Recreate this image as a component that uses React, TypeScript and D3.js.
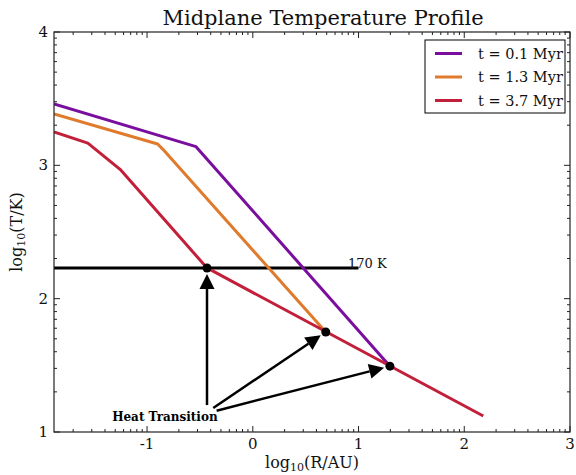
import React from "react";
import * as d3 from "d3";

const W = 576;
const H = 475;

// series data (log10 R [AU], log10 T [K])
const seriesLabels = ["t = 0.1 Myr", "t = 1.3 Myr", "t = 3.7 Myr"];
const seriesColors = ["#7a0e9e", "#e07a2c", "#c21f3a"];
const purpleX = [-1.88, -0.537, 1.297];
const purpleY = [3.46, 3.14, 1.494];
const orangeX = [-1.88, -0.90, -0.85, 0.69];
const orangeY = [3.385, 3.16, 3.12, 1.75];
const redX = [-1.88, -1.56, -1.255, -0.433, 2.18];
const redY = [3.25, 3.167, 2.97, 2.2304, 1.12];

// snow line
const snowLabel = "170 K";
const snowT = Math.log10(170);
const snowXStart = -1.88;
const snowXEnd = 1.0;
const snowLabelX = 0.9;

// transition points & annotation
const transX = [-0.433, 0.69, 1.297];
const transY = [2.2304, 1.75, 1.494];
const arrowStartX = [-0.433, -0.374, -0.342];
const arrowStartY = [1.202, 1.18, 1.16];
const annotText = "Heat Transition";
const annotX = -1.33;
const annotY = 1.085;

const xMajor = [-1, 0, 1, 2, 3];
const yMajor = [1, 2, 3, 4];
const xDomain = [-1.88, 3];
const yDomain = [1, 4];

const FONT = "'DejaVu Serif', serif";

export default function App() {
  const left = 54, right = 570, top = 32, bottom = 432;
  const x = d3.scaleLinear().domain(xDomain).range([left, right]);
  const y = d3.scaleLinear().domain(yDomain).range([bottom, top]);

  const minorTicks = (dom: number[]) => {
    const out: number[] = [];
    for (let n = Math.floor(dom[0]) - 1; n <= Math.ceil(dom[1]); n++) {
      for (let k = 2; k <= 9; k++) {
        const v = n + Math.log10(k);
        if (v > dom[0] && v < dom[1]) out.push(v);
      }
    }
    return out;
  };
  const xMinor = minorTicks(xDomain);
  const yMinor = minorTicks(yDomain);

  const line = d3
    .line<[number, number]>()
    .x((d) => x(d[0]))
    .y((d) => y(d[1]));

  const series = [
    purpleX.map((v, i) => [v, purpleY[i]] as [number, number]),
    orangeX.map((v, i) => [v, orangeY[i]] as [number, number]),
    redX.map((v, i) => [v, redY[i]] as [number, number]),
  ];

  const majLen = 6, minLen = 3;
  const axisColor = "#222";

  // arrows
  const arrows = transX.map((tx, i) => {
    const x0 = x(arrowStartX[i]);
    const y0 = y(arrowStartY[i]);
    const x1 = x(tx);
    const y1 = y(transY[i]);
    const dx = x1 - x0, dy = y1 - y0;
    const L = Math.hypot(dx, dy);
    const ux = dx / L, uy = dy / L;
    const shrink = 6;
    const tipX = x1 - ux * shrink, tipY = y1 - uy * shrink;
    const headLen = 15, headW = 7.5;
    const bx = tipX - ux * headLen, by = tipY - uy * headLen;
    const px = -uy, py = ux;
    const head = `M${tipX},${tipY}L${bx + px * headW},${by + py * headW}L${bx - px * headW},${by - py * headW}Z`;
    return { x0, y0, bx, by, head };
  });

  return (
    <svg width={W} height={H} style={{ position: "absolute", left: 0, top: 0, background: "#fff" }}>
      <rect x={0} y={0} width={W} height={H} fill="#fff" />
      <defs>
        <clipPath id="plotclip">
          <rect x={left} y={top} width={right - left} height={bottom - top} />
        </clipPath>
      </defs>

      {/* ticks */}
      {xMajor.map((v) => (
        <g key={"xm" + v}>
          <line x1={x(v)} x2={x(v)} y1={bottom} y2={bottom - majLen} stroke={axisColor} strokeWidth={1} />
          <line x1={x(v)} x2={x(v)} y1={top} y2={top + majLen} stroke={axisColor} strokeWidth={1} />
          <text x={x(v)} y={449} textAnchor="middle" fontFamily={FONT} fontSize={15} fill="#111">
            {v}
          </text>
        </g>
      ))}
      {xMinor.map((v, i) => (
        <g key={"xn" + i}>
          <line x1={x(v)} x2={x(v)} y1={bottom} y2={bottom - minLen} stroke={axisColor} strokeWidth={1} />
          <line x1={x(v)} x2={x(v)} y1={top} y2={top + minLen} stroke={axisColor} strokeWidth={1} />
        </g>
      ))}
      {yMajor.map((v) => (
        <g key={"ym" + v}>
          <line x1={left} x2={left + majLen} y1={y(v)} y2={y(v)} stroke={axisColor} strokeWidth={1} />
          <line x1={right} x2={right - majLen} y1={y(v)} y2={y(v)} stroke={axisColor} strokeWidth={1} />
          <text x={48} y={y(v) + 5} textAnchor="end" fontFamily={FONT} fontSize={15} fill="#111">
            {v}
          </text>
        </g>
      ))}
      {yMinor.map((v, i) => (
        <g key={"yn" + i}>
          <line x1={left} x2={left + minLen} y1={y(v)} y2={y(v)} stroke={axisColor} strokeWidth={1} />
          <line x1={right} x2={right - minLen} y1={y(v)} y2={y(v)} stroke={axisColor} strokeWidth={1} />
        </g>
      ))}

      {/* snow line */}
      <line x1={x(snowXStart)} x2={x(snowXEnd)} y1={y(snowT)} y2={y(snowT)} stroke="#000" strokeWidth={3} />
      <text x={x(snowLabelX)} y={y(snowT)} fontFamily={FONT} fontSize={13} fill="#111">
        {snowLabel}
      </text>

      {/* series */}
      <g clipPath="url(#plotclip)">
        {series.map((s, i) => (
          <path key={i} d={line(s) || ""} fill="none" stroke={seriesColors[i]} strokeWidth={3} strokeLinejoin="round" />
        ))}
      </g>

      {/* transition points */}
      {transX.map((v, i) => (
        <circle key={"tp" + i} cx={x(v)} cy={y(transY[i])} r={4.5} fill="#000" />
      ))}

      {/* arrows */}
      {arrows.map((a, i) => (
        <g key={"ar" + i}>
          <line x1={a.x0} y1={a.y0} x2={a.bx} y2={a.by} stroke="#000" strokeWidth={2.5} />
          <path d={a.head} fill="#000" />
        </g>
      ))}
      <text x={x(annotX)} y={y(annotY)} fontFamily={FONT} fontSize={12} fontWeight="bold" fill="#000">
        {annotText}
      </text>

      {/* spines */}
      <rect x={left} y={top} width={right - left} height={bottom - top} fill="none" stroke={axisColor} strokeWidth={1.2} />

      {/* legend */}
      <rect x={425} y={40} width={140} height={73} fill="#fff" stroke="#000" strokeWidth={1} />
      {seriesLabels.map((lab, i) => (
        <g key={"lg" + i}>
          <line x1={435} x2={462} y1={53.5 + i * 23.5} y2={53.5 + i * 23.5} stroke={seriesColors[i]} strokeWidth={3} />
          <text x={478} y={58.5 + i * 23.5} fontFamily={FONT} fontSize={14.5} fill="#111">
            {lab}
          </text>
        </g>
      ))}

      {/* title & labels */}
      <text x={323} y={25} textAnchor="middle" fontFamily={FONT} fontSize={21} fill="#111">
        Midplane Temperature Profile
      </text>
      <text x={(left + right) / 2} y={468} textAnchor="middle" fontFamily={FONT} fontSize={16} fill="#111">
        log<tspan fontSize={11} dy={2.5}>10</tspan>
        <tspan dy={-2.5}>(R/AU)</tspan>
      </text>
      <text
        transform={`translate(22,${(top + bottom) / 2}) rotate(-90)`}
        textAnchor="middle"
        fontFamily={FONT}
        fontSize={16}
        fill="#111"
      >
        log<tspan fontSize={11} dy={3}>10</tspan>
        <tspan dy={-3}>(T/K)</tspan>
      </text>
    </svg>
  );
}
